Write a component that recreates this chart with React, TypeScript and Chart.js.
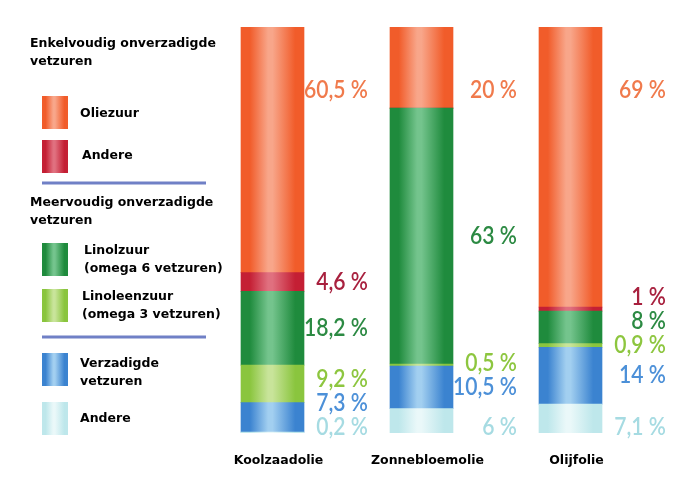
import React, { useEffect, useRef } from "react";
import { Chart, registerables } from "chart.js";

Chart.register(...registerables);

// ---- Data ----
const categories = ["Koolzaadolie", "Zonnebloemolie", "Olijfolie"];

// series, listed top of bar -> bottom of bar
const oliezuur = [60.5, 20, 69];
const andereEnkelvoudig = [4.6, 0, 1];
const linolzuur = [18.2, 63, 8];
const linoleenzuur = [9.2, 0.5, 0.9];
const verzadigd = [7.3, 10.5, 14];
const andere = [0.2, 6, 7.1];

const seriesNames = [
  "Oliezuur",
  "Andere",
  "Linolzuur (omega 6 vetzuren)",
  "Linoleenzuur (omega 3 vetzuren)",
  "Verzadigde vetzuren",
  "Andere",
];

const legendTitles = [
  ["Enkelvoudig onverzadigde", "vetzuren"],
  ["Meervoudig onverzadigde", "vetzuren"],
];
const legendTexts = [
  ["Oliezuur"],
  ["Andere"],
  ["Linolzuur", "(omega 6 vetzuren)"],
  ["Linoleenzuur", "(omega 3 vetzuren)"],
  ["Verzadigde", "vetzuren"],
  ["Andere"],
];

// ---- Styles ----
const palette = [
  { edge: "#F15C2A", light: "#F8A68A", text: "#F07A4C" },
  { edge: "#C41F34", light: "#E0707F", text: "#A8203E" },
  { edge: "#1F8B3D", light: "#74C48D", text: "#2C8A43" },
  { edge: "#8AC53E", light: "#C8E49A", text: "#8DC63F" },
  { edge: "#3B83D0", light: "#A2CFF0", text: "#4C90D8" },
  { edge: "#BEE7EB", light: "#EAF8F9", text: "#A6DBE2" },
];

const BAR_W = 63;
const LABEL_FONT = "600 24px Lato";
const LABEL_SQUEEZE = 0.88;
const LEGEND_FONT = "bold 12.5px 'DejaVu Sans'";

function horizGradient(c: CanvasRenderingContext2D, x0: number, w: number, edge: string, light: string) {
  const g = c.createLinearGradient(x0, 0, x0 + w, 0);
  g.addColorStop(0, edge);
  g.addColorStop(0.14, edge);
  g.addColorStop(0.43, light);
  g.addColorStop(0.5, light);
  g.addColorStop(0.86, edge);
  g.addColorStop(1, edge);
  return g;
}

const makeFill = (edge: string, light: string) => (ctx: any) => {
  const chart = ctx.chart;
  const xs = chart && chart.scales ? chart.scales.x : null;
  if (!chart || !chart.chartArea || !xs || ctx.type !== "data") return edge;
  const cx = xs.getPixelForValue(ctx.dataIndex);
  return horizGradient(chart.ctx, cx - BAR_W / 2, BAR_W, edge, light);
};

const fmt = (v: number) => String(v).replace(".", ",") + " %";

// value labels drawn to the right of each bar
const valueLabelPlugin = {
  id: "valueLabels",
  afterDatasetsDraw(chart: any) {
    const c = chart.ctx as CanvasRenderingContext2D;
    const area = chart.chartArea;
    const n = chart.data.datasets.length;
    c.save();
    c.font = LABEL_FONT;
    c.textAlign = "right";
    c.textBaseline = "middle";
    for (let i = 0; i < chart.data.labels.length; i++) {
      let prevY: number | null = null;
      // datasets are ordered bottom -> top
      for (let d = 0; d < n; d++) {
        const ds = chart.data.datasets[d];
        const v = ds.data[i];
        if (!v) continue;
        const el = chart.getDatasetMeta(d).data[i];
        const mid = (el.y + el.base) / 2;
        let y: number;
        if (d === n - 1) {
          y = area.top + 63;
        } else if (prevY === null) {
          y = area.bottom - 6;
        } else {
          y = Math.min(mid, prevY - 24);
        }
        prevY = y;
        const xr = el.x + el.width / 2 + 64;
        c.save();
        c.translate(xr, y);
        c.scale(LABEL_SQUEEZE, 1);
        c.fillStyle = ds.labelColor;
        c.fillText(fmt(v), 0, 0);
        c.restore();
      }
    }
    c.restore();
  },
};

// grouped legend on the left
const legendPlugin = {
  id: "groupedLegend",
  afterDraw(chart: any) {
    const c = chart.ctx as CanvasRenderingContext2D;
    c.save();
    c.font = LEGEND_FONT;
    c.textBaseline = "middle";
    c.textAlign = "left";
    c.fillStyle = "#000";
    const drawTitle = (lines: string[], y: number) => {
      lines.forEach((t, k) => c.fillText(t, 30, y + k * 18));
    };
    const drawItem = (s: number, swatchTop: number, textY: number, textX: number) => {
      const p = palette[s];
      c.fillStyle = horizGradient(c, 42, 26, p.edge, p.light);
      c.fillRect(42, swatchTop, 26, 33);
      c.fillStyle = "#000";
      legendTexts[s].forEach((t, k) => c.fillText(t, textX, textY + k * 18));
    };
    const drawSep = (y: number) => {
      c.strokeStyle = "#7080C6";
      c.lineWidth = 3;
      c.beginPath();
      c.moveTo(42, y);
      c.lineTo(206, y);
      c.stroke();
    };
    drawTitle(legendTitles[0], 44);
    drawItem(0, 96, 114, 80);
    drawItem(1, 140, 156, 82);
    drawSep(183);
    drawTitle(legendTitles[1], 203);
    drawItem(2, 243, 251, 84);
    drawItem(3, 289, 297, 82);
    drawSep(337);
    drawItem(4, 353, 364, 80);
    drawItem(5, 402, 419, 80);
    c.restore();
  },
};

export default function App() {
  const ref = useRef<HTMLCanvasElement | null>(null);

  useEffect(() => {
    if (!ref.current) return;
    const topToBottom = [oliezuur, andereEnkelvoudig, linolzuur, linoleenzuur, verzadigd, andere];
    const datasets = topToBottom
      .map((data, s) => ({
        label: seriesNames[s],
        data,
        backgroundColor: makeFill(palette[s].edge, palette[s].light),
        labelColor: palette[s].text,
        borderWidth: 0,
        barThickness: BAR_W,
      }))
      .reverse();

    const chart = new Chart(ref.current, {
      type: "bar",
      data: { labels: categories, datasets: datasets as any },
      options: {
        animation: false,
        responsive: true,
        maintainAspectRatio: false,
        layout: { padding: { top: 27, left: 198, right: 49, bottom: 0 } },
        plugins: { legend: { display: false }, tooltip: { enabled: false } },
        scales: {
          x: {
            stacked: true,
            grid: { display: false, drawTicks: false },
            border: { display: false },
            ticks: {
              padding: 20,
              labelOffset: 6,
              color: "#000",
              font: { family: "'DejaVu Sans'", size: 12.5, weight: "bold" },
            },
            afterFit: (scale: any) => {
              scale.height = 50;
            },
          },
          y: {
            stacked: true,
            display: false,
            min: 0,
            max: 100,
          },
        },
      },
      plugins: [valueLabelPlugin, legendPlugin],
    });
    return () => chart.destroy();
  }, []);

  return (
    <div style={{ position: "fixed", left: 0, top: 0, width: 694, height: 483, background: "#fff" }}>
      <canvas ref={ref} />
    </div>
  );
}
